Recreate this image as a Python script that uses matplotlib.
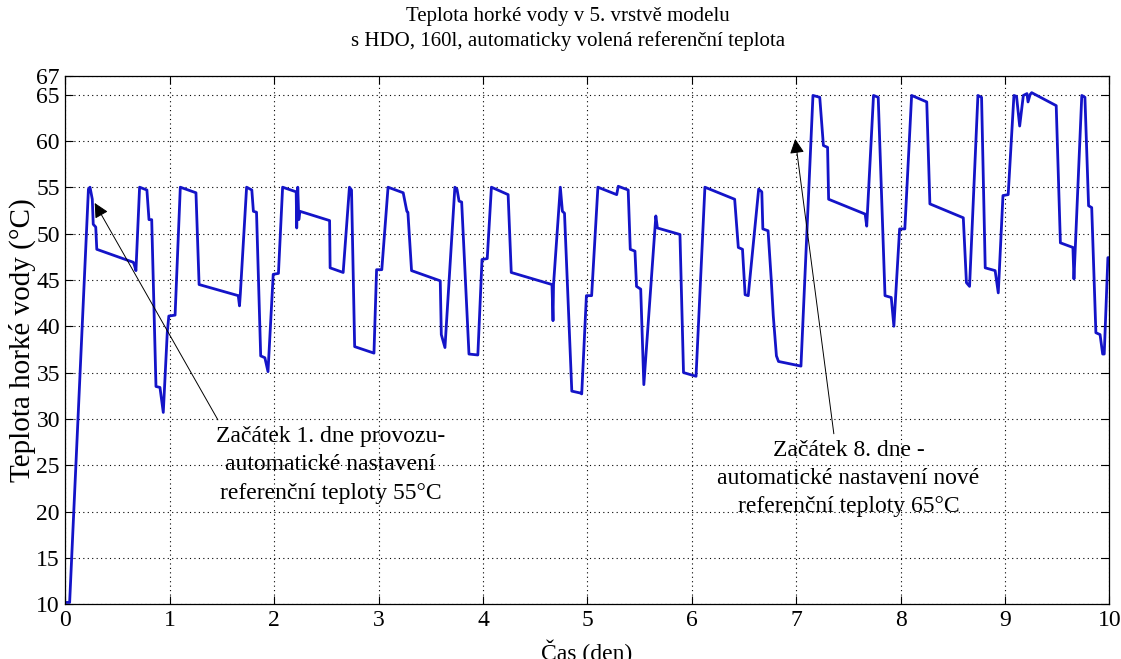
import numpy as np
import matplotlib
matplotlib.use('Agg')
import matplotlib.pyplot as plt

# teplota ve 5. vrstvě zásobníku (den, °C)
cas_den = [0.00, 0.04, 0.22, 0.235, 0.257, 0.266, 0.29, 0.30, 0.65, 0.66, 0.675, 0.71, 0.78, 0.80, 0.826, 0.867, 0.905, 0.937, 0.975, 0.99,
           1.05, 1.10, 1.25, 1.28, 1.655, 1.667, 1.675, 1.735, 1.785, 1.80, 1.83, 1.87, 1.91, 1.94, 1.99,
           2.04, 2.08, 2.21, 2.215, 2.225, 2.235, 2.246, 2.53, 2.535, 2.66, 2.72, 2.74, 2.77, 2.955, 2.98,
           3.03, 3.09, 3.235, 3.27, 3.28, 3.315, 3.59, 3.60, 3.635, 3.73, 3.75, 3.77, 3.795, 3.865, 3.95, 3.99,
           4.04, 4.08, 4.24, 4.27, 4.66, 4.67, 4.675, 4.74, 4.76, 4.78, 4.85, 4.93, 4.945, 4.99,
           5.04, 5.10, 5.28, 5.295, 5.39, 5.41, 5.455, 5.47, 5.51, 5.54, 5.655, 5.67, 5.886, 5.92,
           6.04, 6.125, 6.41, 6.445, 6.485, 6.51, 6.54, 6.64, 6.67, 6.68, 6.73, 6.76, 6.78, 6.81, 6.83,
           7.045, 7.16, 7.225, 7.26, 7.30, 7.31, 7.66, 7.675, 7.74, 7.785, 7.85, 7.91, 7.935, 7.99,
           8.04, 8.105, 8.25, 8.28, 8.60, 8.63, 8.66, 8.74, 8.775, 8.81, 8.905, 8.935, 8.98,
           9.03, 9.085, 9.11, 9.14, 9.175, 9.21, 9.22, 9.24, 9.255, 9.49, 9.53, 9.65, 9.66, 9.735, 9.765, 9.80, 9.83, 9.87, 9.91, 9.935, 9.95, 9.985,
           10.0]
teplota = [10.2, 10.2, 54.8, 55.0, 53.7, 51.0, 50.7, 48.3, 46.9, 46.6, 46.0, 55.0, 54.7, 51.5, 51.5, 33.5, 33.4, 30.7, 39.3, 41.1,
           41.2, 55.0, 54.4, 44.5, 43.3, 42.2, 43.5, 55.0, 54.7, 52.4, 52.3, 36.8, 36.6, 35.1, 45.6,
           45.7, 55.0, 54.5, 50.6, 55.0, 51.5, 52.4, 51.4, 46.3, 45.8, 55.0, 54.7, 37.8, 37.1, 46.1,
           46.1, 55.0, 54.4, 52.4, 52.3, 46.0, 44.9, 39.1, 37.7, 55.0, 54.8, 53.5, 53.4, 37.0, 36.9, 47.2,
           47.3, 55.0, 54.2, 45.8, 44.5, 40.6, 44.5, 55.0, 52.4, 52.2, 33.0, 32.8, 32.7, 43.3,
           43.3, 55.0, 54.2, 55.1, 54.7, 48.3, 48.1, 44.3, 44.0, 33.7, 51.9, 50.6, 49.9, 35.0,
           34.6, 55.0, 53.7, 48.5, 48.3, 43.4, 43.3, 54.8, 54.5, 50.5, 50.3, 45.1, 41.1, 36.8, 36.2,
           35.7, 64.9, 64.7, 59.5, 59.3, 53.7, 52.1, 50.8, 64.9, 64.7, 43.3, 43.1, 40.0, 50.5,
           50.5, 64.9, 64.2, 53.2, 51.7, 44.7, 44.3, 64.9, 64.7, 46.3, 46.0, 43.6, 54.1,
           54.2, 64.9, 64.8, 61.6, 64.9, 65.1, 64.2, 65.0, 65.2, 63.8, 49.0, 48.5, 45.1, 64.9, 64.7, 53.0, 52.8, 39.3, 39.1, 37.0, 37.0, 47.4,
           47.4]
assert len(cas_den) == len(teplota)

x_ticks = list(range(0, 11))
y_ticks = [10, 15, 20, 25, 30, 35, 40, 45, 50, 55, 60, 65, 67]

popis_1 = 'Začátek 1. dne provozu-\nautomatické nastavení\nreferenční teploty 55°C'
popis_8 = 'Začátek 8. dne -\nautomatické nastavení nové\nreferenční teploty 65°C'

plt.rcParams['font.family'] = ['Liberation Serif', 'DejaVu Serif']

fig = plt.figure(figsize=(11.21, 6.59), dpi=100)
ax = fig.add_axes([0.0584, 0.0830, 0.9313, 0.8017])

ax.plot(cas_den, teplota, color='#1414c8', lw=2.0)

ax.set_xlim(0, 10)
ax.set_ylim(10, 67)
ax.set_xticks(x_ticks)
ax.set_yticks(y_ticks)
ax.tick_params(direction='in', length=6, width=0.8, top=True, right=True, labelsize=17, pad=4)
ax.grid(True, color='k', linestyle=(0, (1, 3)), linewidth=0.8)
for s in ax.spines.values():
    s.set_linewidth(0.9)

ax.set_ylabel('Teplota horké vody (°C)', fontsize=21, labelpad=0)

# šipky k popiskům
arrow = dict(arrowstyle='-|>', color='k', lw=0.7, mutation_scale=22,
             shrinkA=0, shrinkB=0)
ax.annotate('', xy=(0.28, 53.3), xytext=(1.46, 29.9), arrowprops=arrow)
ax.annotate('', xy=(6.99, 60.2), xytext=(7.36, 28.4), arrowprops=arrow)

# popisky jsou centrovány na prostřední řádek
ax.text(2.54, 25.05, popis_1, ha='center', va='center', fontsize=17, linespacing=1.45)
ax.text(7.50, 23.55, popis_8, ha='center', va='center', fontsize=17, linespacing=1.45)

fig.text(568 / 1121, 1 - 29 / 659, 'Teplota horké vody v 5. vrstvě modelu\ns HDO, 160l, automaticky volená referenční teplota',
         ha='center', va='center', fontsize=15, linespacing=1.3)
fig.text(587 / 1121, 1 - 652 / 659, 'Čas (den)', ha='center', va='center', fontsize=17)

fig.savefig('out.png', dpi=100)
